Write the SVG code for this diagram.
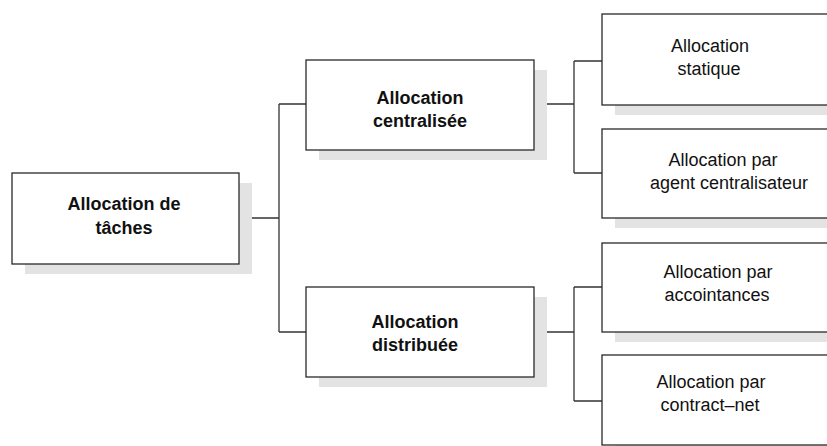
<svg xmlns="http://www.w3.org/2000/svg" width="827" height="446" viewBox="0 0 827 446">
  <style>
    .shadow { fill: #e3e3e3; }
    .box { fill: #ffffff; stroke: #2a2a2a; stroke-width: 1.3; }
    .link { fill: none; stroke: #333333; stroke-width: 1.3; }
    text { font-family: "Liberation Sans", Arial, sans-serif; fill: #111111; text-anchor: middle; }
    .bold { font-size: 18px; font-weight: bold; }
    .reg { font-size: 18px; }
  </style>
  <rect width="827" height="446" fill="#ffffff"/>

  <!-- connectors -->
  <g id="connectors">
    <path class="link" d="M251,218 H279 M279,104 V332 M279,104 H306 M279,332 H306"/>
    <path class="link" d="M547,104 H574 M574,61 V173 M574,61 H602 M574,173 H602"/>
    <path class="link" d="M547,332 H574 M574,287 V401 M574,287 H602 M574,401 H602"/>
  </g>

  <!-- root -->
  <g id="root">
    <rect class="shadow" x="25" y="183" width="227" height="91"/>
    <rect class="box" x="12" y="173" width="227" height="91"/>
    <text class="bold" x="124" y="210">Allocation de</text>
    <text class="bold" x="124" y="234">tâches</text>
  </g>

  <!-- centralised branch -->
  <g id="centralisee">
    <rect class="shadow" x="319" y="70" width="228" height="90"/>
    <rect class="box" x="306" y="60" width="228" height="90"/>
    <text class="bold" x="420" y="104">Allocation</text>
    <text class="bold" x="420" y="127">centralisée</text>
  </g>

  <!-- distributed branch -->
  <g id="distribuee">
    <rect class="shadow" x="319" y="297" width="228" height="90"/>
    <rect class="box" x="306" y="287" width="228" height="90"/>
    <text class="bold" x="415" y="328">Allocation</text>
    <text class="bold" x="415" y="351">distribuée</text>
  </g>

  <!-- leaves -->
  <g id="statique">
    <rect class="shadow" x="615" y="24" width="240" height="91"/>
    <rect class="box" x="602" y="14" width="240" height="91"/>
    <text class="reg" x="710" y="52">Allocation</text>
    <text class="reg" x="709" y="75">statique</text>
  </g>

  <g id="agent-centralisateur">
    <rect class="shadow" x="615" y="139" width="240" height="89"/>
    <rect class="box" x="602" y="129" width="240" height="89"/>
    <text class="reg" x="723" y="166">Allocation par</text>
    <text class="reg" x="729" y="189">agent centralisateur</text>
  </g>

  <g id="accointances">
    <rect class="shadow" x="615" y="253" width="240" height="89"/>
    <rect class="box" x="602" y="243" width="240" height="89"/>
    <text class="reg" x="718" y="278">Allocation par</text>
    <text class="reg" x="717" y="301">accointances</text>
  </g>

  <g id="contract-net">
    <rect class="shadow" x="615" y="365" width="240" height="90"/>
    <rect class="box" x="602" y="355" width="240" height="90"/>
    <text class="reg" x="711" y="388">Allocation par</text>
    <text class="reg" x="710" y="411">contract–net</text>
  </g>
</svg>
